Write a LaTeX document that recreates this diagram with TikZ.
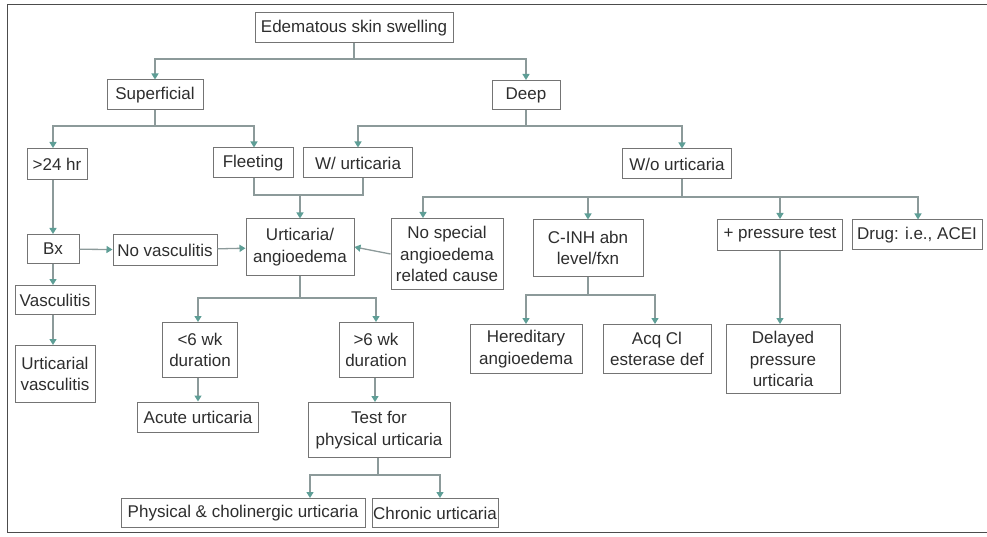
\documentclass[tikz,border=0pt]{standalone}
\usepackage{fontspec}
\setmainfont{Liberation Sans}
\usetikzlibrary{arrows.meta}
\definecolor{boxgray}{HTML}{747474}
\definecolor{linegray}{HTML}{8C9A9A}
\definecolor{tealtip}{HTML}{5E9E96}
\definecolor{txt}{HTML}{2E2E2E}
\tikzset{
  box/.style={draw=boxgray, line width=1pt, fill=white, inner sep=1pt, align=center,
    text=txt, font=\fontsize{17}{21.5}\selectfont},
  link/.style={draw=linegray, line width=1.3pt},
  arr/.style={link, -{Triangle[width=7pt,length=6pt,color=tealtip]}},
}
\begin{document}
\begin{tikzpicture}[x=1pt,y=-1pt]
\useasboundingbox (0,0) rectangle (987,537);
% frame
\draw[draw=black!70, line width=1pt] (987,5) -- (7,5) -- (7,532) -- (987,532);

\node[box, minimum width=198, minimum height=30] (edem) at (354,28) {Edematous skin swelling};
\node[box, minimum width=96, minimum height=30] (sup) at (155,95) {Superficial};
\node[box, minimum width=68, minimum height=29] (deep) at (526,95) {Deep};
\node[box, minimum width=60, minimum height=31] (h24) at (57,164) {>24 hr};
\node[box, minimum width=80, minimum height=30] (fleet) at (253,163) {Fleeting};
\node[box, minimum width=109, minimum height=30] (wur) at (358,163) {W/ urticaria};
\node[box, minimum width=109, minimum height=30] (wour) at (677,164) {W/o urticaria};
\node[box, minimum width=52, minimum height=29] (bx) at (53,249) {Bx};
\node[box, minimum width=104, minimum height=30] (novasc) at (165,250) {No vasculitis};
\node[box, minimum width=108, minimum height=56] (ua) at (300,247) {Urticaria/\\angioedema};
\node[box, minimum width=112, minimum height=71] (nospec) at (447,254) {No special\\angioedema\\related cause};
\node[box, minimum width=110, minimum height=56] (cinh) at (588,248) {C-INH abn\\level/fxn};
\node[box, minimum width=125, minimum height=31] (press) at (780,235) {+ pressure test};
\node[box, minimum width=130, minimum height=30] (drug) at (917,235) {Drug: i.e., ACEI};
\node[box, minimum width=80, minimum height=29] (vasc) at (55,300) {Vasculitis};
\node[box, minimum width=80, minimum height=57] (uvasc) at (55,374) {Urticarial\\vasculitis};
\node[box, minimum width=75, minimum height=55] (lt6) at (200,350) {<6 wk\\duration};
\node[box, minimum width=74, minimum height=55] (gt6) at (376,350) {>6 wk\\duration};
\node[box, minimum width=112, minimum height=49] (hered) at (526,349) {Hereditary\\angioedema};
\node[box, minimum width=108, minimum height=49] (acq) at (657,349) {Acq Cl\\esterase def};
\node[box, minimum width=114, minimum height=69] (delayed) at (783,359) {Delayed\\pressure\\urticaria};
\node[box, minimum width=121, minimum height=30] (acute) at (198,417) {Acute urticaria};
\node[box, minimum width=142, minimum height=55] (test) at (379,430) {Test for\\physical urticaria};
\node[box, minimum width=244, minimum height=29] (phys) at (243,513) {Physical \& cholinergic urticaria};
\node[box, minimum width=126, minimum height=29] (chronic) at (435,513) {Chronic urticaria};

% junctions
\coordinate (j1) at (354,59);
\coordinate (j2) at (155,126);
\coordinate (j3) at (526,126);
\coordinate (j4l) at (254,195);
\coordinate (j4r) at (363,195);
\coordinate (j4) at (300,195);
\coordinate (j5) at (682,197);
\coordinate (j6) at (300,298);
\coordinate (j7) at (588,295);
\coordinate (j8) at (378,475);

\draw[link] (edem.south) -- (j1);
\draw[arr] (j1) -| (sup.north);
\draw[arr] (j1) -| (deep.north);

\draw[link] (sup.south) -- (j2);
\draw[arr] (j2) -| (h24.north -| bx);
\draw[arr] (j2) -| ([xshift=1]fleet.north);

\draw[link] (deep.south) -- (j3);
\draw[arr] (j3) -| (wur.north);
\draw[arr] (j3) -| (wour.north -| j5);

\draw[link] (fleet.south -| j4l) -- (j4l) -- (j4r) -- (wur.south -| j4r);
\draw[arr] (j4) -- (ua.north);

\draw[arr] (h24.south -| bx) -- (bx.north);
\draw[arr] (bx) -- (novasc);
\draw[arr] (novasc) -- (ua);
\draw[arr] (nospec.west) -- (ua.east);
\draw[arr] (bx) -- (vasc.north -| bx);
\draw[arr] (vasc.south -| bx) -- (uvasc.north -| bx);

\draw[link] (wour.south -| j5) -- (j5);
\draw[arr] (j5) -| ([xshift=-24]nospec.north);
\draw[arr] (j5) -| (cinh.north);
\draw[arr] (j5) -| (press.north);
\draw[arr] (j5) -| ([xshift=1]drug.north);

\draw[link] (ua.south) -- (j6);
\draw[arr] (j6) -| ([xshift=-2]lt6.north);
\draw[arr] (j6) -| (gt6.north);
\draw[arr] (lt6.south -| acute) -- (acute.north);
\draw[arr] (gt6.south -| 375,0) -- (test.north -| 375,0);

\draw[link] (cinh.south) -- (j7);
\draw[arr] (j7) -| (hered.north);
\draw[arr] (j7) -| ([xshift=-2]acq.north);

\draw[arr] (press.south) -- (delayed.north -| press);

\draw[link] (test.south -| j8) -- (j8);
\draw[arr] (j8) -| ([xshift=67]phys.north);
\draw[arr] (j8) -| ([xshift=5]chronic.north);
\end{tikzpicture}
\end{document}
